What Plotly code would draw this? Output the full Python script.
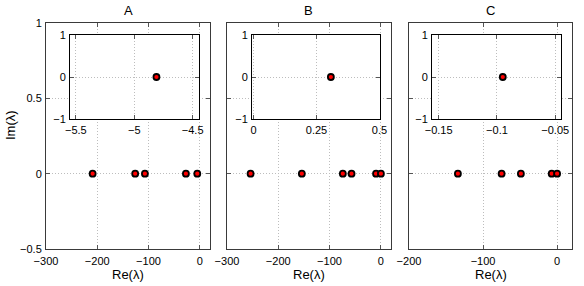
import plotly.graph_objects as go

# ── Data ──────────────────────────────────────────────────────────────────────
panels = ["A", "B", "C"]

re_a = [-209, -126, -107, -27, -4.81]
re_b = [-254, -154, -74, -57, -9.2, 0.307]
re_c = [-134, -75, -49, -7.4, -0.095]

# the eigenvalue closest to zero, shown again in the inset
inset_a = [-4.81]
inset_b = [0.307]
inset_c = [-0.095]

main_xticks = [[-300, -200, -100, 0], [-300, -200, -100, 0], [-200, -100, 0]]
main_xrange = [[-300, 20], [-300, 20], [-200, 20]]
main_yticks = [-0.5, 0, 0.5, 1]

inset_xticks = [[-5.5, -5, -4.5], [0, 0.25, 0.5], [-0.15, -0.1, -0.05]]
inset_xlabels = [["\u22125.5", "\u22125", "\u22124.5"], ["0", "0.25", "0.5"],
                 ["\u22120.15", "\u22120.1", "\u22120.05"]]
inset_xrange = [[-5.55, -4.45], [-0.006, 0.502], [-0.1557, -0.0455]]
inset_yticks = [-1, 0, 1]

# ── Layout helpers (pixel boxes → paper fractions) ───────────────────────────
W, H = 584, 286
main_px = [(46, 210), (227, 391), (409, 572)]
main_py = (23, 249)
inset_px = [(70, 198.5), (252, 380), (432, 560.5)]
inset_py = (35, 119)

FONT = "Liberation Sans, Arial, Helvetica, sans-serif"


def xdom(a, b):
    return [a / W, b / W]


def ydom(top, bottom):
    return [1 - bottom / H, 1 - top / H]


def axis_style(**kw):
    base = dict(
        showline=True, mirror="ticks", linecolor="#3a3a3a", linewidth=1,
        ticks="inside", ticklen=4, tickcolor="#555", tickwidth=1,
        showgrid=True, gridcolor="#bdbdbd", griddash="1px,2px", gridwidth=1,
        zeroline=False, tickfont=dict(family=FONT, size=11, color="black"),
        fixedrange=True, automargin=False,
    )
    base.update(kw)
    return base


fig = go.Figure()
marker = dict(size=6, color="#ff0000", line=dict(color="black", width=1.8))

all_main = [re_a, re_b, re_c]
all_inset = [inset_a, inset_b, inset_c]
layout = {}

for i in range(3):
    m = i + 1          # main axes index
    n = i + 4          # inset axes index
    mx = "x" if m == 1 else f"x{m}"
    my = "y" if m == 1 else f"y{m}"
    fig.add_trace(go.Scatter(x=all_main[i], y=[0] * len(all_main[i]), mode="markers",
                             marker=marker, xaxis=mx, yaxis=my, showlegend=False))
    fig.add_trace(go.Scatter(x=all_inset[i], y=[0] * len(all_inset[i]), mode="markers",
                             marker=marker, xaxis=f"x{n}", yaxis=f"y{n}", showlegend=False))

    xk = "xaxis" if m == 1 else f"xaxis{m}"
    yk = "yaxis" if m == 1 else f"yaxis{m}"
    layout[xk] = axis_style(domain=xdom(*main_px[i]), range=main_xrange[i],
                            tickvals=main_xticks[i], anchor=my, ticklabelstandoff=2)
    layout[yk] = axis_style(domain=ydom(*main_py), range=[-0.5, 1],
                            tickvals=main_yticks, anchor=mx,
                            showticklabels=(i == 0), ticklabelstandoff=1)

    layout[f"xaxis{n}"] = axis_style(domain=xdom(*inset_px[i]), range=inset_xrange[i],
                                     tickvals=inset_xticks[i], ticktext=inset_xlabels[i],
                                     anchor=f"y{n}", linecolor="black", ticklabelstandoff=1)
    layout[f"yaxis{n}"] = axis_style(domain=ydom(*inset_py), range=[-1, 1],
                                     tickvals=inset_yticks, anchor=f"x{n}",
                                     linecolor="black", ticklabelstandoff=1)

annotations = []
for i, name in enumerate(panels):
    cx = (main_px[i][0] + main_px[i][1]) / 2 / W
    annotations.append(dict(text=name, x=cx, y=1 - 10 / H, xref="paper", yref="paper",
                            xanchor="center", yanchor="middle", showarrow=False,
                            font=dict(family=FONT, size=13, color="black")))
    annotations.append(dict(text="Re(\u03bb)", x=cx, y=1 - 274 / H, xref="paper", yref="paper",
                            xanchor="center", yanchor="middle", showarrow=False,
                            font=dict(family=FONT, size=13, color="black")))
annotations.append(dict(text="Im(\u03bb)", x=10 / W, y=1 - 125 / H, xref="paper", yref="paper",
                        xanchor="center", yanchor="middle", textangle=-90, showarrow=False,
                        font=dict(family=FONT, size=13, color="black")))

fig.update_layout(
    width=W, height=H,
    margin=dict(l=0, r=0, t=0, b=0),
    paper_bgcolor="white", plot_bgcolor="white",
    annotations=annotations,
    **layout,
)

fig.write_html("out.html", config={"displayModeBar": False},
               post_script="document.body.style.margin='0';")
